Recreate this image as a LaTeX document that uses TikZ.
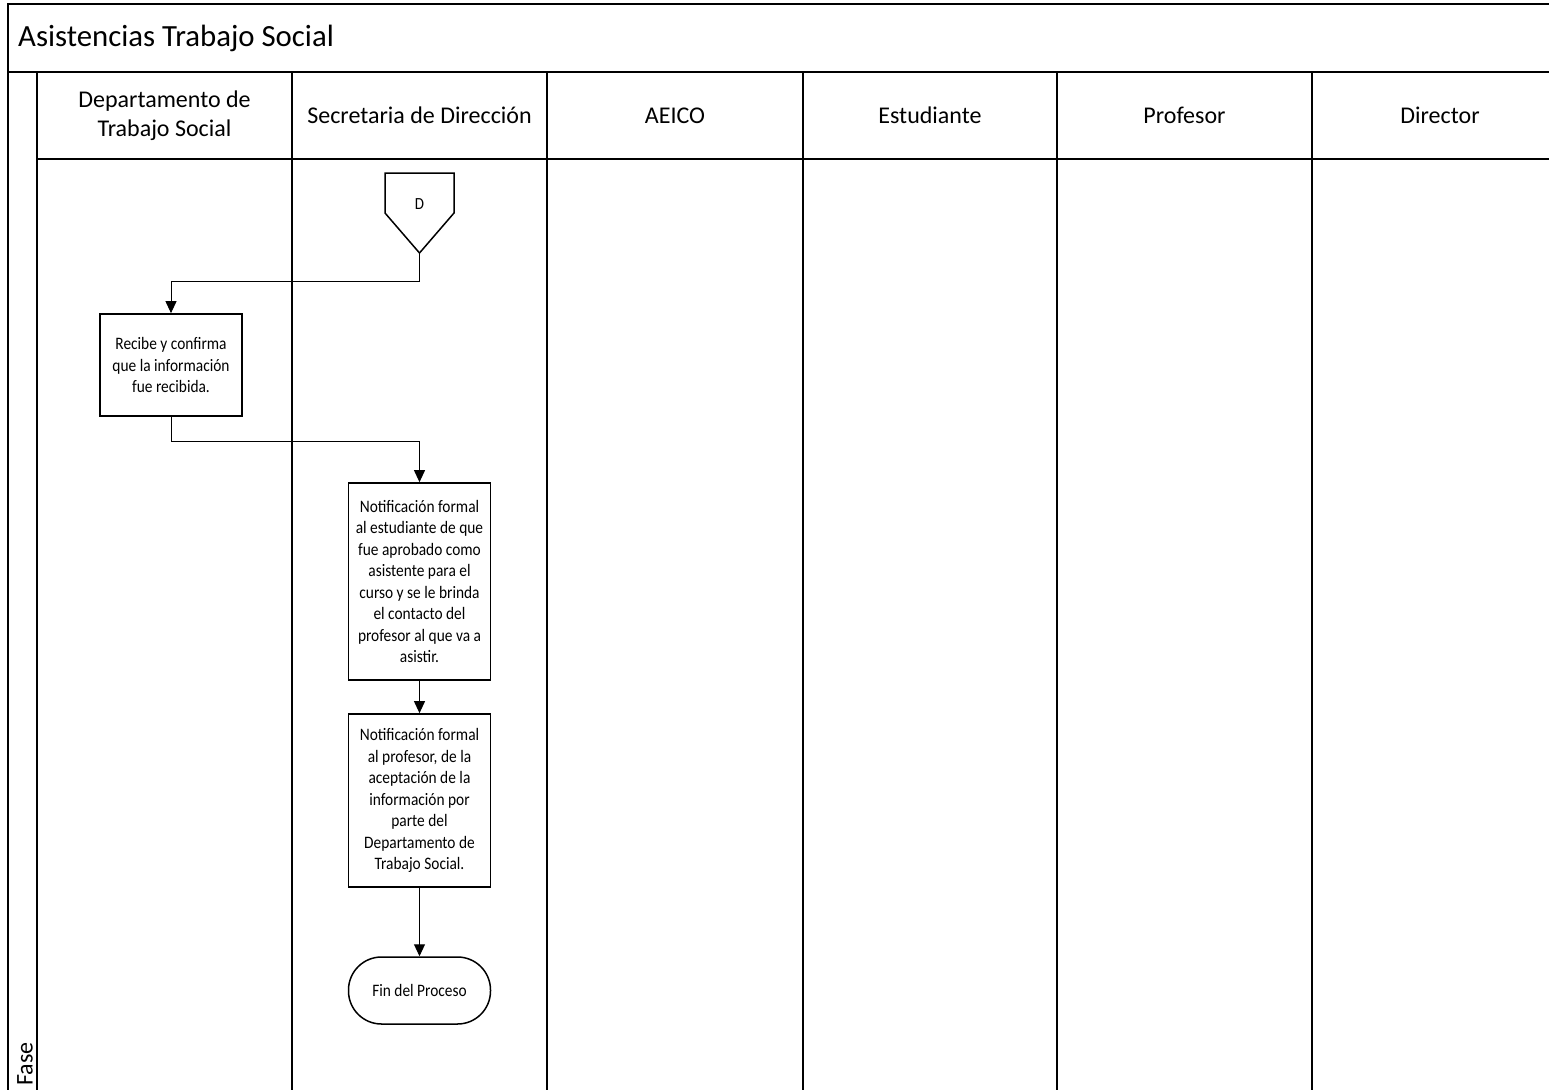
\documentclass[tikz,border=0pt]{standalone}
\usepackage{fontspec}
\setmainfont{Carlito}
\newfontfamily\boxfont[FakeStretch=0.88]{Carlito}
\usetikzlibrary{arrows.meta}
\begin{document}
\begin{tikzpicture}[x=1pt,y=-1pt,
  frame/.style={line width=2pt,black},
  lanehead/.style={font=\fontsize{24}{29}\selectfont,align=center,inner sep=0pt},
  procbox/.style={draw,line width=1.7pt,align=center,inner sep=2pt,
    font=\boxfont\fontsize{17.5}{21.5}\selectfont,minimum width=142pt},
  endbox/.style={draw,line width=1.5pt,rounded corners=33pt,align=center,
    font=\boxfont\fontsize{17.5}{21}\selectfont,minimum width=142pt,minimum height=67pt},
  flow/.style={line width=1pt,-{Triangle[length=12pt,width=11pt]}},
  link/.style={line width=1pt}]
\useasboundingbox (0,0) rectangle (1549,1089);

% pool frame and title band
\draw[frame] (8,1092) -- (8,4) -- (1552,4);
\draw[frame] (8,72) -- (1552,72);
\node[anchor=west,inner sep=0pt,font=\fontsize{30.8}{36}\selectfont] (title) at (18,38) {Asistencias Trabajo Social};

% phase column and lane header row
\draw[frame] (37,72) -- (37,1092);
\draw[frame] (37,159) -- (1552,159);
\foreach \xl in {292,547,803,1057,1312}
  \draw[frame] (\xl,72) -- (\xl,1092);
\node[rotate=90,anchor=west,inner sep=0pt,font=\fontsize{24}{29}\selectfont] (fase) at (25,1086) {Fase};

% lane titles
\node[lanehead] (h1) at (164.5,116) {Departamento de\\Trabajo Social};
\node[lanehead,anchor=base] (h2) at (419.5,124) {Secretaria de Dirección};
\node[lanehead,anchor=base] (h3) at (675,124) {AEICO};
\node[lanehead,anchor=base] (h4) at (930,124) {Estudiante};
\node[lanehead,anchor=base] (h5) at (1184.5,124) {Profesor};
\node[lanehead,anchor=base] (h6) at (1440,124) {Director};

% off-page connector D
\draw[line width=1.5pt,line join=miter] (385,173) -- (454,173) -- (454,213) -- (419.5,253) -- (385,213) -- cycle;
\coordinate (dtip) at (419.5,253);
\node[font=\boxfont\fontsize{17}{20}\selectfont,inner sep=0pt] (d) at (419.5,204) {D};

% process steps
\node[procbox,minimum height=102pt] (recibe) at (171,365)
  {Recibe y confirma\\que la información\\fue recibida.};
\node[procbox,minimum height=197pt] (notest) at (419.5,581.5)
  {Notificación formal\\al estudiante de que\\fue aprobado como\\asistente para el\\curso y se le brinda\\el contacto del\\profesor al que va a\\asistir.};
\node[procbox,minimum height=173pt] (notprof) at (419.5,800.5)
  {Notificación formal\\al profesor, de la\\aceptación de la\\información por\\parte del\\Departamento de\\Trabajo Social.};
\node[endbox] (fin) at (419.5,990.5) {Fin del Proceso};

% connectors
\draw[flow] (dtip) -- (419.5,281) -| (recibe.north);
\draw[flow] (recibe.south) |- (419.5,441.5) -- (notest.north);
\draw[flow] (notest.south) -- (notprof.north);
\draw[flow] (notprof.south) -- (fin.north);
\end{tikzpicture}
\end{document}
